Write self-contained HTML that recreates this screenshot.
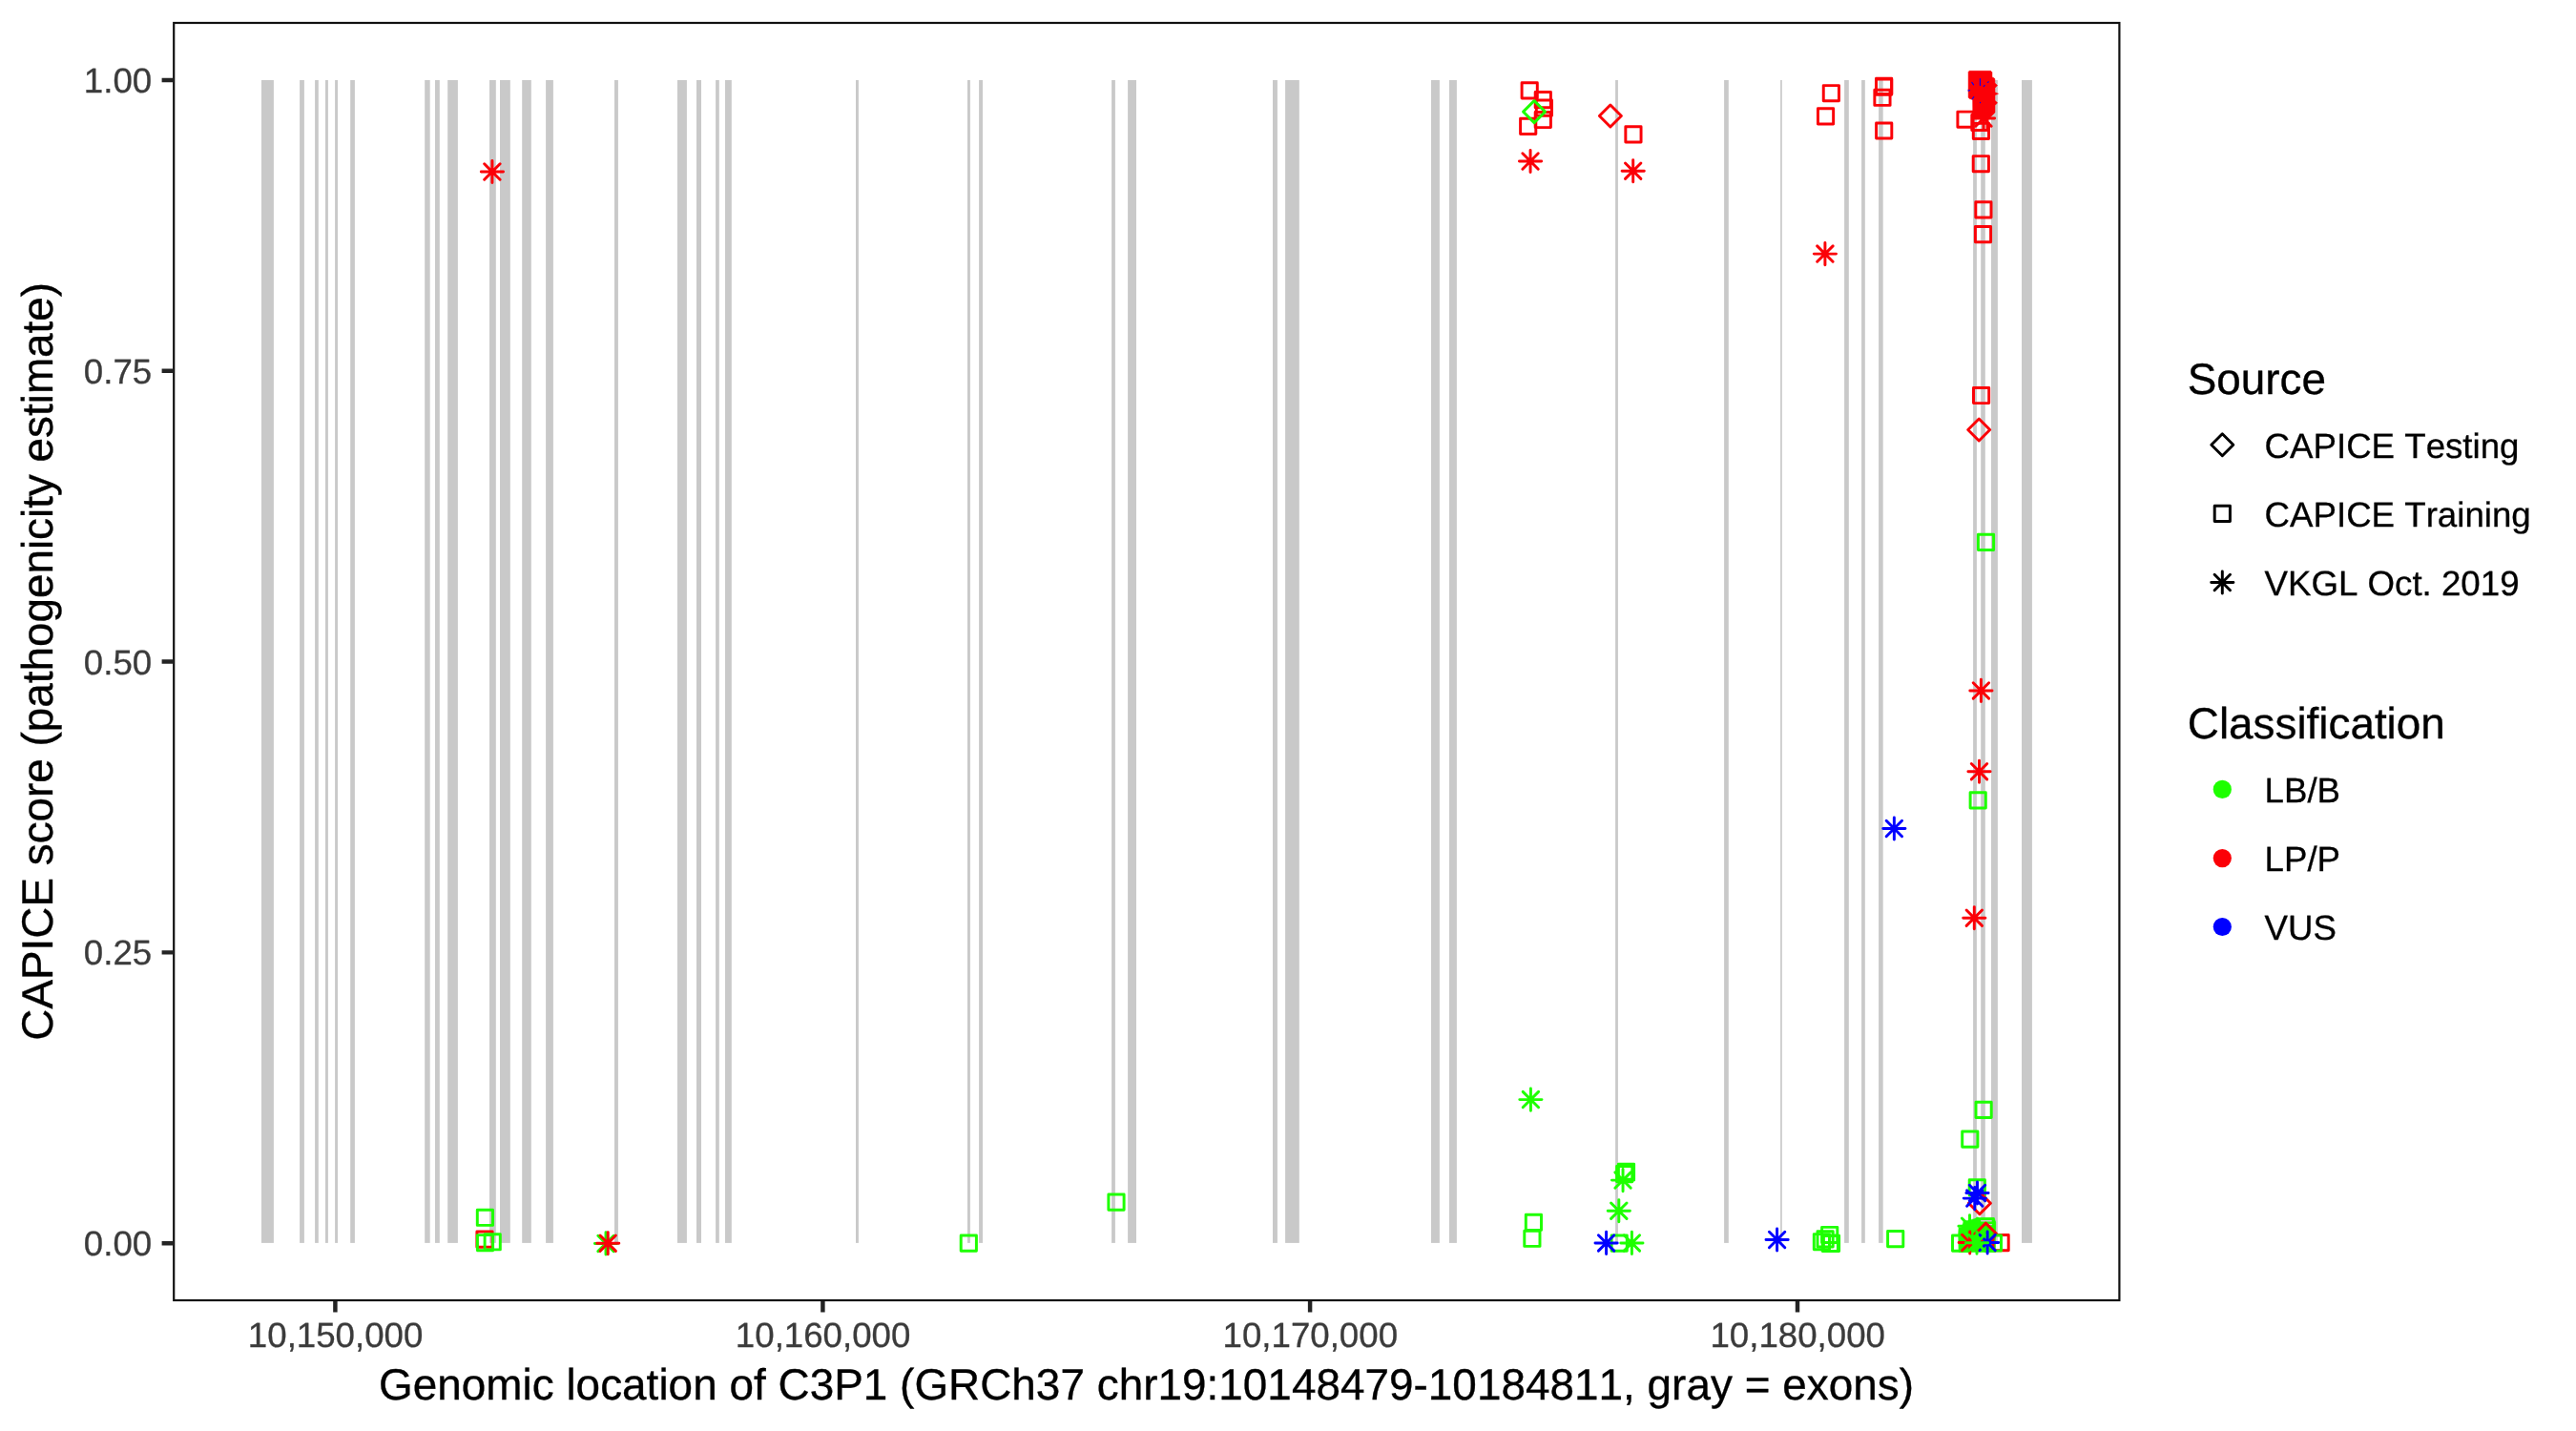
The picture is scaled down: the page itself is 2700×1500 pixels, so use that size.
<!DOCTYPE html>
<html><head><meta charset="utf-8"><title>CAPICE C3P1</title>
<style>
html,body{margin:0;padding:0;background:#fff;}
body{width:2700px;height:1500px;overflow:hidden;}
svg{display:block;will-change:transform;font-family:"Liberation Sans",sans-serif;font-kerning:none;text-rendering:geometricPrecision;}
.ax text{font-size:36.67px;fill:#3B3B3B;stroke:#3B3B3B;stroke-width:0.3px;}
.lt text{font-size:36.67px;fill:#000;stroke:#000;stroke-width:0.3px;}
.tt{font-size:45.83px;fill:#000;stroke:#000;stroke-width:0.35px;}
</style></head><body>
<svg width="2700" height="1500" viewBox="0 0 2700 1500">
<rect width="2700" height="1500" fill="#fff"/>
<g fill="#C9C9C9"><rect x="274.0" y="84" width="12.9" height="1218.9"/><rect x="314.1" y="84" width="4.8" height="1218.9"/><rect x="330.1" y="84" width="3.7" height="1218.9"/><rect x="341.0" y="84" width="2.9" height="1218.9"/><rect x="351.1" y="84" width="2.9" height="1218.9"/><rect x="367.2" y="84" width="4.7" height="1218.9"/><rect x="445.2" y="84" width="5.5" height="1218.9"/><rect x="456.0" y="84" width="4.8" height="1218.9"/><rect x="469.2" y="84" width="10.7" height="1218.9"/><rect x="513.0" y="84" width="6.8" height="1218.9"/><rect x="524.0" y="84" width="10.8" height="1218.9"/><rect x="547.2" y="84" width="9.6" height="1218.9"/><rect x="572.1" y="84" width="7.8" height="1218.9"/><rect x="644.0" y="84" width="3.9" height="1218.9"/><rect x="710.0" y="84" width="9.9" height="1218.9"/><rect x="730.0" y="84" width="5.0" height="1218.9"/><rect x="750.1" y="84" width="3.7" height="1218.9"/><rect x="760.0" y="84" width="6.8" height="1218.9"/><rect x="897.0" y="84" width="2.9" height="1218.9"/><rect x="1014.0" y="84" width="2.9" height="1218.9"/><rect x="1026.1" y="84" width="3.9" height="1218.9"/><rect x="1165.1" y="84" width="3.8" height="1218.9"/><rect x="1182.1" y="84" width="8.9" height="1218.9"/><rect x="1334.0" y="84" width="4.9" height="1218.9"/><rect x="1347.1" y="84" width="14.7" height="1218.9"/><rect x="1500.0" y="84" width="8.9" height="1218.9"/><rect x="1519.0" y="84" width="7.9" height="1218.9"/><rect x="1693.1" y="84" width="2.8" height="1218.9"/><rect x="1807.1" y="84" width="4.7" height="1218.9"/><rect x="1866.1" y="84" width="1.7" height="1218.9"/><rect x="1933.1" y="84" width="4.7" height="1218.9"/><rect x="1951.1" y="84" width="3.7" height="1218.9"/><rect x="1969.1" y="84" width="4.6" height="1218.9"/><rect x="2068.1" y="84" width="3.8" height="1218.9"/><rect x="2076.2" y="84" width="4.6" height="1218.9"/><rect x="2087.0" y="84" width="6.9" height="1218.9"/><rect x="2119.0" y="84" width="10.9" height="1218.9"/></g>
<g fill="none" stroke-width="2.95" stroke-linecap="round" stroke-linejoin="round">
<rect x="499.90" y="1291.00" width="16.20" height="16.20" stroke="#FB0007"/>
<rect x="500.30" y="1268.20" width="16.20" height="16.20" stroke="#1EFF00"/>
<rect x="500.40" y="1294.60" width="16.20" height="16.20" stroke="#1EFF00"/>
<rect x="508.10" y="1293.70" width="16.20" height="16.20" stroke="#1EFF00"/>
<path d="M623.40 1303.40H646.60M635.00 1291.80V1315.00M626.80 1295.20L643.20 1311.60M626.80 1311.60L643.20 1295.20" stroke="#1EFF00"/>
<path d="M625.60 1303.20H648.80M637.20 1291.60V1314.80M629.00 1295.00L645.40 1311.40M629.00 1311.40L645.40 1295.00" stroke="#FB0007"/>
<path d="M504.30 180.00H527.50M515.90 168.40V191.60M507.70 171.80L524.10 188.20M507.70 188.20L524.10 171.80" stroke="#FB0007"/>
<rect x="1007.20" y="1295.05" width="16.20" height="16.20" stroke="#1EFF00"/>
<rect x="1161.90" y="1252.00" width="16.20" height="16.20" stroke="#1EFF00"/>
<rect x="1595.10" y="86.80" width="16.20" height="16.20" stroke="#FB0007"/>
<rect x="1609.20" y="96.50" width="16.20" height="16.20" stroke="#FB0007"/>
<rect x="1610.30" y="105.00" width="16.20" height="16.20" stroke="#FB0007"/>
<rect x="1609.20" y="117.40" width="16.20" height="16.20" stroke="#FB0007"/>
<rect x="1593.60" y="124.30" width="16.20" height="16.20" stroke="#FB0007"/>
<path d="M1596.55 117.10L1608.05 105.60L1619.55 117.10L1608.05 128.60Z" stroke="#1EFF00"/>
<path d="M1676.40 121.50L1687.90 110.00L1699.40 121.50L1687.90 133.00Z" stroke="#FB0007"/>
<rect x="1703.85" y="132.70" width="16.20" height="16.20" stroke="#FB0007"/>
<path d="M1592.45 169.00H1615.65M1604.05 157.40V180.60M1595.85 160.80L1612.25 177.20M1595.85 177.20L1612.25 160.80" stroke="#FB0007"/>
<path d="M1700.10 179.20H1723.30M1711.70 167.60V190.80M1703.50 171.00L1719.90 187.40M1703.50 187.40L1719.90 171.00" stroke="#FB0007"/>
<path d="M1592.80 1152.60H1616.00M1604.40 1141.00V1164.20M1596.20 1144.40L1612.60 1160.80M1596.20 1160.80L1612.60 1144.40" stroke="#1EFF00"/>
<rect x="1599.30" y="1273.20" width="16.20" height="16.20" stroke="#1EFF00"/>
<rect x="1597.80" y="1290.20" width="16.20" height="16.20" stroke="#1EFF00"/>
<rect x="1689.10" y="1295.00" width="16.20" height="16.20" stroke="#1EFF00"/>
<path d="M1672.00 1302.90H1695.20M1683.60 1291.30V1314.50M1675.40 1294.70L1691.80 1311.10M1675.40 1311.10L1691.80 1294.70" stroke="#0000FF"/>
<path d="M1698.80 1302.90H1722.00M1710.40 1291.30V1314.50M1702.20 1294.70L1718.60 1311.10M1702.20 1311.10L1718.60 1294.70" stroke="#1EFF00"/>
<path d="M1685.20 1269.20H1708.40M1696.80 1257.60V1280.80M1688.60 1261.00L1705.00 1277.40M1688.60 1277.40L1705.00 1261.00" stroke="#1EFF00"/>
<rect x="1696.40" y="1220.10" width="16.20" height="16.20" stroke="#1EFF00"/>
<rect x="1694.60" y="1222.50" width="16.20" height="16.20" stroke="#1EFF00"/>
<path d="M1689.45 1237.10H1712.65M1701.05 1225.50V1248.70M1692.85 1228.90L1709.25 1245.30M1692.85 1245.30L1709.25 1228.90" stroke="#1EFF00"/>
<rect x="1911.25" y="89.60" width="16.20" height="16.20" stroke="#FB0007"/>
<rect x="1905.45" y="113.70" width="16.20" height="16.20" stroke="#FB0007"/>
<rect x="1966.50" y="82.20" width="16.20" height="16.20" stroke="#FB0007"/>
<rect x="1966.50" y="83.10" width="16.20" height="16.20" stroke="#FB0007"/>
<rect x="1964.86" y="94.20" width="16.20" height="16.20" stroke="#FB0007"/>
<rect x="1966.60" y="128.90" width="16.20" height="16.20" stroke="#FB0007"/>
<path d="M1901.30 266.10H1924.50M1912.90 254.50V277.70M1904.70 257.90L1921.10 274.30M1904.70 274.30L1921.10 257.90" stroke="#FB0007"/>
<path d="M2064.00 94.60H2087.20M2075.60 83.00V106.20M2067.40 86.40L2083.80 102.80M2067.40 102.80L2083.80 86.40" stroke="#0000FF"/>
<path d="M2064.3 74.3L2086.6 74.3L2088.0 75.8L2088.0 81.0L2089.6 81.4L2090.9 82.6L2090.9 87.0L2093.6 89.6L2091.0 92.2L2091.0 96.8L2094.6 98.2L2091.0 99.7L2091.0 105.2L2093.6 107.8L2091.0 110.5L2091.0 118.0L2086.0 123.0L2067.8 123.0L2067.6 104.4L2064.3 103.6L2063.1 102.2L2063.1 75.6Z" fill="#FB0007" stroke="#FB0007" stroke-width="0.5"/>
<path d="M2075.4 82.6V89.4M2066.8 86.4L2068.6 88.8M2083.3 86.4L2084.3 85.8M2063.3 95.2L2064.6 94.6M2067.2 103.8L2068.8 101.6M2075.5 107.3V107.7M2079.2 90.6L2080.2 89.4" stroke="#0000FF" stroke-width="1.1"/>
<rect x="2051.90" y="117.10" width="16.20" height="16.20" stroke="#FB0007"/>
<path d="M2067.40 124.00H2090.60M2079.00 112.40V135.60M2070.80 115.80L2087.20 132.20M2070.80 132.20L2087.20 115.80" stroke="#FB0007"/>
<rect x="2066.80" y="120.35" width="16.20" height="16.20" stroke="#FB0007"/>
<rect x="2068.30" y="129.35" width="16.20" height="16.20" stroke="#FB0007"/>
<rect x="2068.20" y="163.60" width="16.20" height="16.20" stroke="#FB0007"/>
<rect x="2070.80" y="211.80" width="16.20" height="16.20" stroke="#FB0007"/>
<rect x="2070.40" y="237.45" width="16.20" height="16.20" stroke="#FB0007"/>
<rect x="2068.50" y="406.40" width="16.20" height="16.20" stroke="#FB0007"/>
<path d="M2062.70 450.50L2074.20 439.00L2085.70 450.50L2074.20 462.00Z" stroke="#FB0007"/>
<rect x="2073.40" y="560.30" width="16.20" height="16.20" stroke="#1EFF00"/>
<path d="M2064.80 723.90H2088.00M2076.40 712.30V735.50M2068.20 715.70L2084.60 732.10M2068.20 732.10L2084.60 715.70" stroke="#FB0007"/>
<path d="M2062.90 808.70H2086.10M2074.50 797.10V820.30M2066.30 800.50L2082.70 816.90M2066.30 816.90L2082.70 800.50" stroke="#FB0007"/>
<rect x="2065.10" y="830.80" width="16.20" height="16.20" stroke="#1EFF00"/>
<path d="M1973.75 868.50H1996.95M1985.35 856.90V880.10M1977.15 860.30L1993.55 876.70M1977.15 876.70L1993.55 860.30" stroke="#0000FF"/>
<path d="M2057.70 962.20H2080.90M2069.30 950.60V973.80M2061.10 954.00L2077.50 970.40M2061.10 970.40L2077.50 954.00" stroke="#FB0007"/>
<rect x="2071.00" y="1155.30" width="16.20" height="16.20" stroke="#1EFF00"/>
<rect x="2056.70" y="1186.00" width="16.20" height="16.20" stroke="#1EFF00"/>
<rect x="2064.20" y="1236.80" width="16.20" height="16.20" stroke="#1EFF00"/>
<path d="M2063.40 1261.20L2074.90 1249.70L2086.40 1261.20L2074.90 1272.70Z" stroke="#FB0007"/>
<path d="M2060.90 1250.50H2084.10M2072.50 1238.90V1262.10M2064.30 1242.30L2080.70 1258.70M2064.30 1258.70L2080.70 1242.30" stroke="#0000FF"/>
<path d="M2058.20 1256.10H2081.40M2069.80 1244.50V1267.70M2061.60 1247.90L2078.00 1264.30M2061.60 1264.30L2078.00 1247.90" stroke="#0000FF"/>
<rect x="2046.50" y="1295.05" width="16.20" height="16.20" stroke="#1EFF00"/>
<path d="M2058.5 1279.6L2062.0 1279.6L2066.0 1278.4L2072.0 1277.0L2090.3 1276.6L2091.6 1281.0L2091.6 1312.6L2053.0 1312.6L2052.6 1293.0L2053.0 1287.0L2056.0 1286.4Z" fill="#1EFF00" stroke="#1EFF00" stroke-width="0.5"/>
<path d="M2052.90 1285.20H2076.10M2064.50 1273.60V1296.80M2056.30 1277.00L2072.70 1293.40M2056.30 1293.40L2072.70 1277.00" stroke="#1EFF00"/>
<rect x="2072.90" y="1277.80" width="16.20" height="16.20" stroke="#1EFF00"/>
<rect x="2074.00" y="1281.40" width="16.20" height="16.20" stroke="#1EFF00"/>
<path d="M2076.6 1279.8H2087.2" stroke="#C9C9C9" stroke-width="1.4"/>
<path d="M2085.0 1283.6H2087.6" stroke="#C9C9C9" stroke-width="1.2"/>
<path d="M2053.10 1302.50H2076.30M2064.70 1290.90V1314.10M2056.50 1294.30L2072.90 1310.70M2056.50 1310.70L2072.90 1294.30" stroke="#FB0007"/>
<rect x="2089.00" y="1294.50" width="16.20" height="16.20" stroke="#FB0007"/>
<path d="M2069.80 1293.60L2081.30 1282.10L2092.80 1293.60L2081.30 1305.10Z" stroke="#FB0007"/>
<path d="M2066 1296L2078 1290L2074 1310L2068 1310Z" fill="#1EFF00" stroke="none"/>
<rect x="2081.30" y="1294.90" width="16.20" height="16.20" stroke="#1EFF00"/>
<path d="M2071.50 1302.50H2094.70M2083.10 1290.90V1314.10M2074.90 1294.30L2091.30 1310.70M2074.90 1310.70L2091.30 1294.30" stroke="#0000FF"/>
<path d="M2060.40 1302.70H2083.60M2072.00 1291.10V1314.30M2063.80 1294.50L2080.20 1310.90M2063.80 1310.90L2080.20 1294.50" stroke="#1EFF00"/>
<path d="M1851.00 1299.50H1874.20M1862.60 1287.90V1311.10M1854.40 1291.30L1870.80 1307.70M1854.40 1307.70L1870.80 1291.30" stroke="#0000FF"/>
<rect x="1909.60" y="1286.35" width="16.20" height="16.20" stroke="#1EFF00"/>
<rect x="1905.00" y="1290.80" width="16.20" height="16.20" stroke="#1EFF00"/>
<rect x="1901.30" y="1293.60" width="16.20" height="16.20" stroke="#1EFF00"/>
<rect x="1911.40" y="1295.30" width="16.20" height="16.20" stroke="#1EFF00"/>
<rect x="1910.20" y="1295.30" width="16.20" height="16.20" stroke="#1EFF00"/>
<rect x="1978.60" y="1290.50" width="16.20" height="16.20" stroke="#1EFF00"/>
</g>
<rect x="182.20" y="24.00" width="2039.20" height="1339.00" fill="none" stroke="#111" stroke-width="2.2"/>
<path d="M169.6 83.95H181.1M169.6 388.76H181.1M169.6 693.58H181.1M169.6 998.39H181.1M169.6 1303.20H181.1M351.40 1364.1V1375.5M862.40 1364.1V1375.5M1373.10 1364.1V1375.5M1884.00 1364.1V1375.5" stroke="#242424" stroke-width="4.45" fill="none"/>
<g class="ax"><text x="159.2" y="97.05" text-anchor="end">1.00</text><text x="159.2" y="401.86" text-anchor="end">0.75</text><text x="159.2" y="706.68" text-anchor="end">0.50</text><text x="159.2" y="1011.49" text-anchor="end">0.25</text><text x="159.2" y="1316.30" text-anchor="end">0.00</text><text x="351.60" y="1412.2" text-anchor="middle">10,150,000</text><text x="862.60" y="1412.2" text-anchor="middle">10,160,000</text><text x="1373.30" y="1412.2" text-anchor="middle">10,170,000</text><text x="1884.20" y="1412.2" text-anchor="middle">10,180,000</text></g>
<text class="tt" x="1201.5" y="1467.1" text-anchor="middle" letter-spacing="0.04">Genomic location of C3P1 (GRCh37 chr19:10148479-10184811, gray = exons)</text>
<text class="tt" transform="translate(55,693.3) rotate(-90)" text-anchor="middle">CAPICE score (pathogenicity estimate)</text>
<text class="tt" x="2292.8" y="413.3">Source</text>
<text class="tt" x="2292.8" y="774.1">Classification</text>
<g fill="none" stroke="#000" stroke-width="2.95" stroke-linecap="round" stroke-linejoin="round"><path d="M2317.80 466.3L2329.30 454.80L2340.80 466.3L2329.30 477.80Z"/><rect x="2321.20" y="530.30" width="16.2" height="16.2"/><path d="M2317.70 610.50H2340.90M2329.30 598.90V622.10M2321.10 602.30L2337.50 618.70M2321.10 618.70L2337.50 602.30"/></g>
<circle cx="2329.3" cy="827.4" r="9.6" fill="#1EFF00"/>
<circle cx="2329.3" cy="899.6" r="9.6" fill="#FB0007"/>
<circle cx="2329.3" cy="971.5" r="9.6" fill="#0000FF"/>
<g class="lt">
<text x="2373.6" y="479.5">CAPICE Testing</text>
<text x="2373.6" y="551.6">CAPICE Training</text>
<text x="2373.6" y="623.7">VKGL Oct. 2019</text>
<text x="2373.6" y="840.6">LB/B</text>
<text x="2373.6" y="912.7">LP/P</text>
<text x="2373.6" y="984.6">VUS</text>
</g>
</svg>
</body></html>
